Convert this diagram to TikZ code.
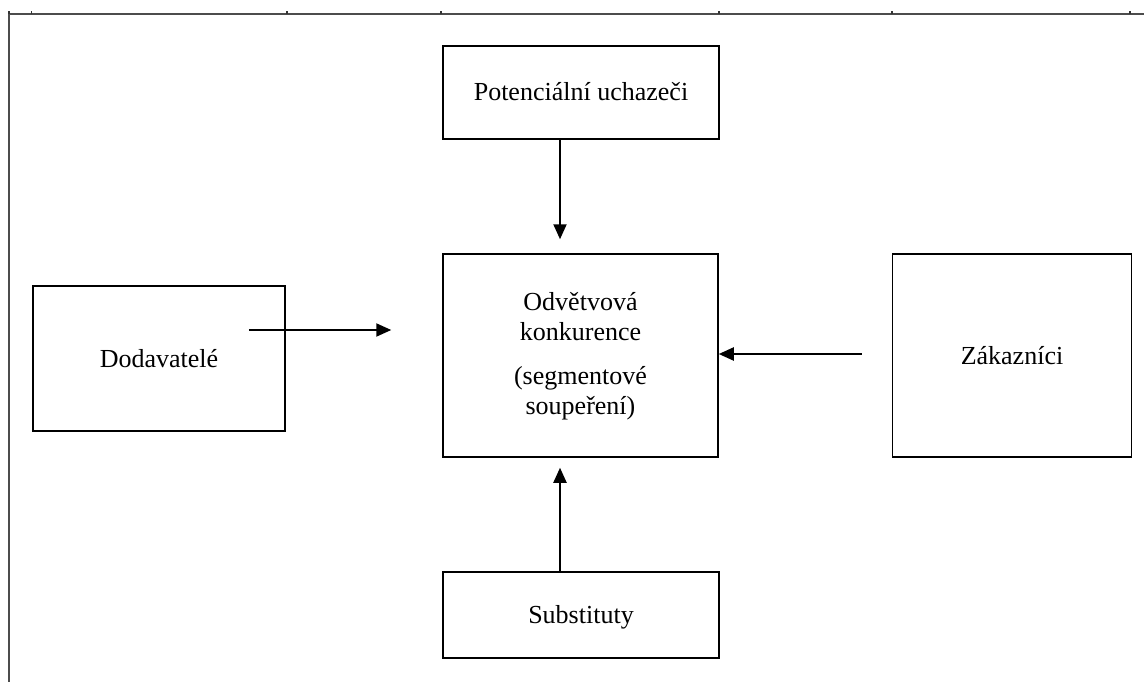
\documentclass[tikz,border=0pt]{standalone}
\usepackage{fontspec}
\setmainfont{Liberation Serif}
\usetikzlibrary{arrows.meta}
\begin{document}
\begin{tikzpicture}[x=1pt,y=-1pt,
  box/.style={draw=black, line width=1.5pt, rectangle, inner sep=0pt,
    font=\fontsize{26}{30}\selectfont, text height=17pt, text depth=0pt},
  txt/.style={inner sep=0pt, anchor=base, font=\fontsize{26}{30}\selectfont},
  arr/.style={draw=black, line width=2pt, -{Triangle[length=15pt,width=13pt]}},
  frameline/.style={draw=black!70, line width=2pt},
  tickmark/.style={draw=black!80, line width=1.3pt}]
\useasboundingbox (0,0) rectangle (1144,682);
% page frame with ruler ticks
\draw[frameline] (8.5,682) -- (8.5,14.5) -- (1144,14.5);
\foreach \x in {9,31.5,287,441,719,892,1130}
  \draw[tickmark] (\x,11.5) -- (\x,14.5);
% boxes
\node[box, minimum width=276pt, minimum height=93pt] (pu) at (581,92.5) {Potenciální uchazeči};
\node[box, minimum width=275pt, minimum height=203pt] (ind) at (580.5,355.5) {};
\node[box, minimum width=252pt, minimum height=145pt] (dod) at (159,358.5) {Dodavatelé};
\node[box, minimum width=239pt, minimum height=203pt] (zak) at (1012,355.5) {Zákazníci};
\node[box, minimum width=276pt, minimum height=86pt] (sub) at (581,615) {Substituty};
% central text
\node[txt] (t1) at (580.5,310) {Odvětvová};
\node[txt] (t2) at (580.5,340) {konkurence};
\node[txt] (t3) at (580.5,384) {(segmentové};
\node[txt] (t4) at (580.5,414) {soupeření)};
% connectors
\draw[arr, shorten >=14pt] ([xshift=-21pt]pu.south) -- ([xshift=-20.5pt]ind.north);
\draw[arr, shorten >=10pt] ([xshift=-21pt]sub.north) -- ([xshift=-20.5pt]ind.south);
\draw[arr, shorten <=-37pt, shorten >=51pt] ([yshift=28.5pt]dod.east) -- ([yshift=28.5pt]dod.east -| ind.west);
\draw[arr, shorten <=30pt] ([yshift=1.5pt]zak.west) -- ([yshift=1.5pt]zak.west -| ind.east);
\end{tikzpicture}
\end{document}
